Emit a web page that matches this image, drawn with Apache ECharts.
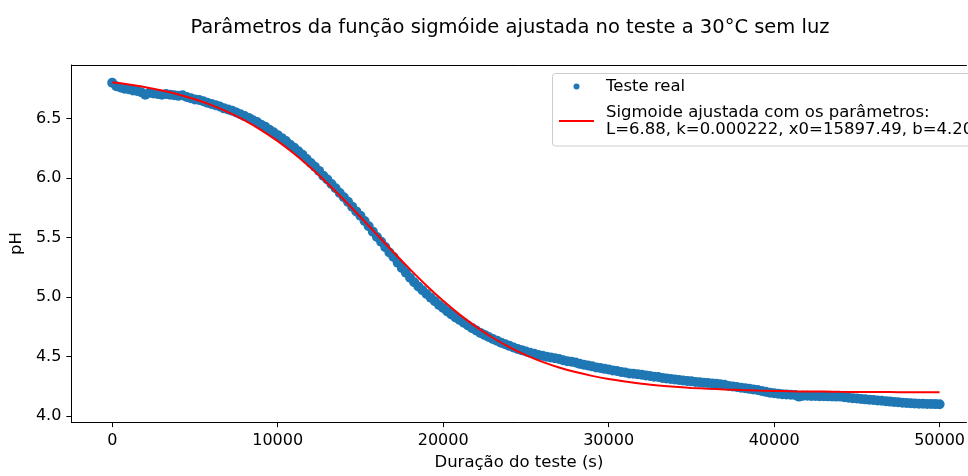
<!DOCTYPE html>
<html>
<head>
<meta charset="utf-8">
<script src="https://cdn.jsdelivr.net/npm/echarts@6/dist/echarts.min.js"></script>
<style>html,body{margin:0;padding:0;background:#fff}#c{width:968px;height:476px}</style>
</head>
<body>
<div id="c"></div>
<script>
const chartTitle = 'Parâmetros da função sigmóide ajustada no teste a 30°C sem luz';
const xName = 'Duração do teste (s)';
const yName = 'pH';
const realName = 'Teste real';
const fitName = 'Sigmoide ajustada com os parâmetros:\nL=6.88, k=0.000222, x0=15897.49, b=4.20';
const xTicks = [0, 10000, 20000, 30000, 40000, 50000];
const yTicks = [4.0, 4.5, 5.0, 5.5, 6.0, 6.5];

// measured pH, one reading every 250 s (0 .. 50000 s)
const realStep = 250;
const realPH = [
  6.80, 6.77, 6.76, 6.75,
  6.745, 6.735, 6.73, 6.72,
  6.70, 6.715, 6.71, 6.705,
  6.70, 6.705, 6.70, 6.695,
  6.69, 6.695, 6.68, 6.67,
  6.66, 6.655, 6.645, 6.632,
  6.622, 6.612, 6.60, 6.585,
  6.575, 6.565, 6.55, 6.535,
  6.52, 6.505, 6.485, 6.47,
  6.448, 6.43, 6.405, 6.385,
  6.36, 6.335, 6.31, 6.28,
  6.254, 6.225, 6.195, 6.16,
  6.126, 6.095, 6.06, 6.02,
  5.987, 5.95, 5.915, 5.875,
  5.838, 5.80, 5.76, 5.72,
  5.683, 5.64, 5.595, 5.55,
  5.505, 5.465, 5.42, 5.375,
  5.337, 5.29, 5.245, 5.205,
  5.163, 5.125, 5.09, 5.058,
  5.026, 4.995, 4.965, 4.935,
  4.909, 4.88, 4.855, 4.83,
  4.808, 4.785, 4.762, 4.74,
  4.72, 4.70, 4.683, 4.665,
  4.649, 4.635, 4.618, 4.605,
  4.591, 4.578, 4.565, 4.555,
  4.544, 4.534, 4.525, 4.515,
  4.507, 4.50, 4.493, 4.487,
  4.48, 4.47, 4.462, 4.458,
  4.451, 4.44, 4.432, 4.426,
  4.419, 4.41, 4.405, 4.398,
  4.392, 4.385, 4.38, 4.372,
  4.368, 4.36, 4.357, 4.352,
  4.348, 4.342, 4.338, 4.332,
  4.329, 4.322, 4.318, 4.313,
  4.309, 4.305, 4.30, 4.296,
  4.293, 4.288, 4.285, 4.282,
  4.279, 4.275, 4.272, 4.268,
  4.265, 4.255, 4.25, 4.245,
  4.24, 4.235, 4.23, 4.225,
  4.221, 4.212, 4.205, 4.198,
  4.193, 4.19, 4.185, 4.182,
  4.18, 4.178, 4.165, 4.172,
  4.173, 4.17, 4.171, 4.168,
  4.169, 4.167, 4.166, 4.165,
  4.165, 4.16, 4.155, 4.152,
  4.149, 4.145, 4.142, 4.139,
  4.136, 4.132, 4.13, 4.126,
  4.123, 4.12, 4.117, 4.114,
  4.112, 4.11, 4.108, 4.106,
  4.105, 4.104, 4.103, 4.102,
  4.101
];

// fitted sigmoid, one value every 1000 s (0 .. 50000 s)
const fitStep = 1000;
const fitPH = [
  6.804, 6.785, 6.763, 6.735, 6.702, 6.661, 6.612, 6.553, 6.484, 6.403,
  6.310, 6.204, 6.086, 5.957, 5.818, 5.673, 5.525, 5.377, 5.233, 5.096,
  4.969, 4.853, 4.750, 4.659, 4.581, 4.514, 4.457, 4.410, 4.371, 4.339,
  4.312, 4.291, 4.273, 4.259, 4.247, 4.238, 4.231, 4.225, 4.220, 4.216,
  4.213, 4.210, 4.208, 4.207, 4.205, 4.204, 4.203, 4.203, 4.202, 4.202,
  4.201
];

const FONT = 'DejaVu Sans';
const chart = echarts.init(document.getElementById('c'), null, {renderer: 'canvas'});
chart.setOption({
  animation: false,
  backgroundColor: '#fff',
  title: {
    text: chartTitle, left: 510, top: 18, textAlign: 'center', padding: 0,
    textStyle: {fontFamily: FONT, fontSize: 19.5, fontWeight: 'normal', color: '#000'}
  },
  grid: {left: 70, top: 65, right: 0, bottom: 48.3, show: false},
  graphic: [{
    type: 'rect', z: 50, silent: true,
    shape: {x: 552.5, y: 73.5, width: 460, height: 72.5, r: 3},
    style: {fill: 'rgba(255,255,255,0.8)', stroke: '#cccccc', lineWidth: 1}
  }],
  legend: {
    orient: 'vertical', left: 552, top: 73, z: 60,
    padding: [5, 8, 7, 6], itemGap: 9, itemWidth: 35, itemHeight: 6,
    backgroundColor: 'transparent', borderWidth: 0,
    textStyle: {fontFamily: FONT, fontSize: 16.5, color: '#000', lineHeight: 17, padding: [0, 0, 0, 7]},
    data: [
      {name: realName, icon: 'circle', itemStyle: {color: '#1f77b4'}},
      {name: fitName, itemStyle: {opacity: 0}, lineStyle: {color: '#ff0000', width: 2}}
    ]
  },
  xAxis: [{
    type: 'value', min: -2470, max: 51626,
    name: xName, nameLocation: 'middle', nameGap: 30,
    nameTextStyle: {fontFamily: FONT, fontSize: 16.5, color: '#000'},
    axisLine: {show: true, onZero: false, lineStyle: {color: '#000', width: 1}},
    axisTick: {show: true, inside: false, length: 5, customValues: xTicks, lineStyle: {color: '#000'}},
    axisLabel: {margin: 11, customValues: xTicks, fontFamily: FONT, fontSize: 16, color: '#000', formatter: v => String(v)},
    splitLine: {show: false}
  }, {
    type: 'value', position: 'top', min: -2470, max: 51626,
    axisLine: {show: true, onZero: false, lineStyle: {color: '#000', width: 1}},
    axisTick: {show: false}, axisLabel: {show: false}, splitLine: {show: false}
  }],
  yAxis: {
    type: 'value', min: 3.951, max: 6.949,
    name: yName, nameLocation: 'middle', nameGap: 43, nameRotate: 90,
    nameTextStyle: {fontFamily: FONT, fontSize: 16.5, color: '#000'},
    axisLine: {show: true, onZero: false, lineStyle: {color: '#000', width: 1}},
    axisTick: {show: true, inside: false, length: 5, customValues: yTicks, lineStyle: {color: '#000'}},
    axisLabel: {margin: 10, customValues: yTicks, fontFamily: FONT, fontSize: 16, color: '#000', formatter: v => v.toFixed(1)},
    splitLine: {show: false}
  },
  series: [
    {
      type: 'scatter', name: realName, xAxisIndex: 0,
      data: realPH.map((v, i) => [i * realStep, v]),
      symbol: 'circle', symbolSize: 10,
      itemStyle: {color: '#1f77b4', opacity: 1},
      z: 2
    },
    {
      type: 'line', name: fitName, xAxisIndex: 0,
      data: fitPH.map((v, i) => [i * fitStep, v]),
      showSymbol: false, symbol: 'none', smooth: 0.3,
      lineStyle: {color: '#ff0000', width: 2},
      itemStyle: {color: '#ff0000'},
      z: 3
    }
  ]
});
</script>
</body>
</html>
